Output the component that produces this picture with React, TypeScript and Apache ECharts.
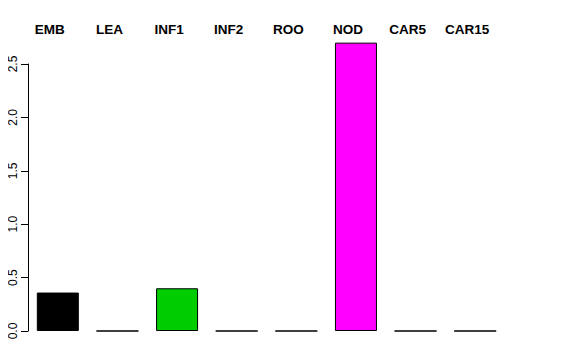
import React, { useEffect, useRef } from "react";
import * as echarts from "echarts";

const categories = ["EMB", "LEA", "INF1", "INF2", "ROO", "NOD", "CAR5", "CAR15"];
const values = [0.36, 0, 0.4, 0, 0, 2.7, 0, 0];
const colors = ["#000000", "#000000", "#00CD00", "#000000", "#000000", "#FF00FF", "#000000", "#000000"];
const yTicks = [0, 0.5, 1.0, 1.5, 2.0, 2.5];

export default function App() {
  const ref = useRef<HTMLDivElement>(null);
  useEffect(() => {
    if (!ref.current) return;
    const chart = echarts.init(ref.current, undefined, { renderer: "svg" });
    chart.setOption({
      animation: false,
      backgroundColor: "#ffffff",
      grid: { left: 28, width: 477, top: 64, height: 267 },
      xAxis: {
        type: "category",
        data: categories,
        position: "top",
        axisLine: { show: false },
        axisTick: { show: false },
        axisLabel: {
          margin: 28,
          fontFamily: "Liberation Sans, Arial, sans-serif",
          fontWeight: "bold",
          fontSize: 13.5,
          color: "#000",
          padding: [0, 16, 0, 0],
          interval: 0,
        },
      },
      yAxis: {
        type: "value",
        min: 0,
        max: yTicks[yTicks.length - 1],
        interval: 0.5,
        splitLine: { show: false },
        axisLine: { show: true, lineStyle: { color: "#000", width: 1 } },
        axisTick: { show: true, length: 7, lineStyle: { color: "#000" } },
        axisLabel: {
          rotate: 90,
          margin: 15,
          verticalAlign: "middle",
          fontFamily: "Liberation Sans, Arial, sans-serif",
          fontSize: 12,
          color: "#000",
          formatter: (v: number) => v.toFixed(1),
        },
      },
      series: [
        {
          type: "bar",
          clip: false,
          barWidth: 42,
          data: values.map((v, i) => ({
            value: v,
            itemStyle: { color: colors[i], borderColor: "#000", borderWidth: 1 },
          })),
        },
      ],
    });
    return () => chart.dispose();
  }, []);
  return <div ref={ref} style={{ width: 576, height: 360, margin: -8 }} />;
}
